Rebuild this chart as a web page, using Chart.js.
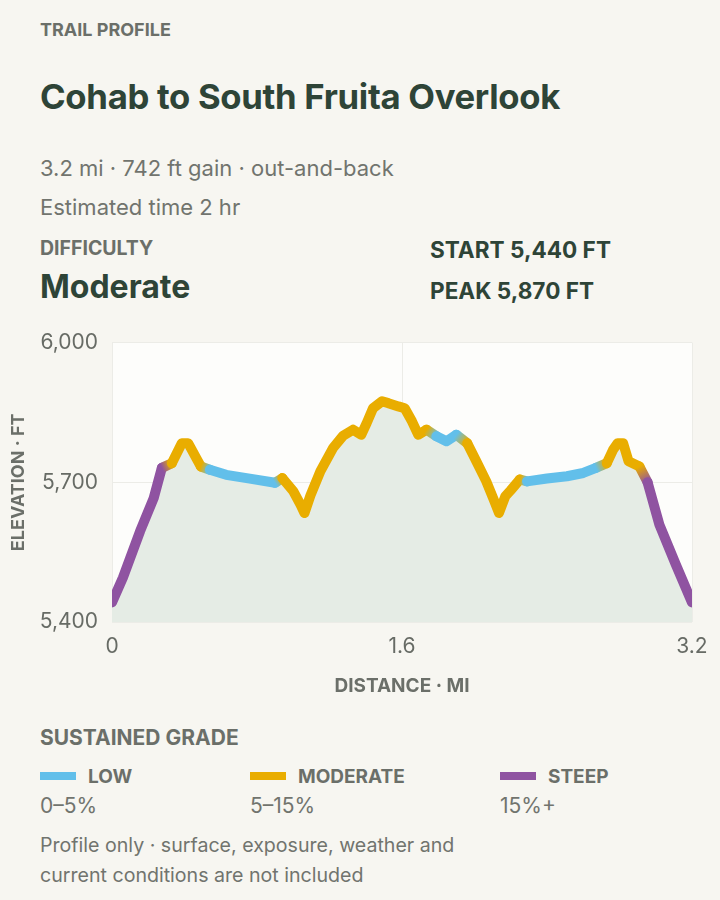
<!DOCTYPE html>
<html>
<head>
<meta charset="utf-8">
<script src="https://cdn.jsdelivr.net/npm/chart.js@4"></script>
<style>
  body { margin: 0; background: #f7f6f1; font-family: Inter, "Noto Sans", sans-serif; }
  .page { position: relative; width: 720px; height: 900px; overflow: hidden; }
  .t { position: absolute; left: 40px; white-space: nowrap; line-height: 1; }
  .cap { font-weight: 700; color: #6b6f69; }
  .dark { color: #2e4437; font-weight: 700; }
  .grey { color: #71746e; }
  .sw { position: absolute; width: 36px; height: 8px; }
  #wrap { position: absolute; left: 0; top: 316px; width: 720px; height: 382px; }
</style>
</head>
<body>
<div class="page">
  <div class="t cap" style="top:21px;font-size:18px;">TRAIL PROFILE</div>
  <div class="t dark" style="top:79px;font-size:34.7px;letter-spacing:-0.3px;">Cohab to South Fruita Overlook</div>
  <div class="t grey" style="top:157px;font-size:22px;">3.2 mi · 742 ft gain · out-and-back</div>
  <div class="t grey" style="top:196px;font-size:22px;">Estimated time 2 hr</div>
  <div class="t cap" style="top:239px;font-size:19.5px;">DIFFICULTY</div>
  <div class="t dark" style="top:271px;font-size:32px;">Moderate</div>
  <div class="t dark" style="left:430px;top:239px;font-size:22.6px;">START 5,440 FT</div>
  <div class="t dark" style="left:430px;top:280px;font-size:22.6px;">PEAK 5,870 FT</div>

  <div id="wrap"><canvas id="profile"></canvas></div>

  <div class="t cap" style="top:727px;font-size:21px;">SUSTAINED GRADE</div>
  <div id="legend"></div>
  <div class="t grey" style="top:830px;font-size:19.6px;line-height:30px;">Profile only · surface, exposure, weather and<br>current conditions are not included</div>
</div>

<script>
// distance along the trail (mi) and elevation (ft)
var distance = [0, 0.06, 0.155, 0.23, 0.275, 0.33, 0.385, 0.42, 0.465, 0.49,
  0.54, 0.63, 0.76, 0.9, 0.94, 1.0, 1.04, 1.062, 1.095, 1.15,
  1.22, 1.275, 1.33, 1.375, 1.405, 1.44, 1.49, 1.525, 1.58, 1.615,
  1.655, 1.69, 1.735, 1.79, 1.845, 1.9, 1.96, 2.01, 2.065, 2.11,
  2.135, 2.17, 2.2, 2.25, 2.29, 2.4, 2.51, 2.6, 2.67, 2.73,
  2.765, 2.79, 2.82, 2.85, 2.91, 2.955, 3.02, 3.11, 3.2];
var elevation = [5442, 5495, 5595, 5666, 5731, 5741, 5784, 5784, 5752, 5734,
  5727, 5716, 5708, 5699, 5709, 5681, 5652, 5634, 5672, 5724,
  5774, 5800, 5813, 5802, 5827, 5859, 5874, 5870, 5863, 5859,
  5831, 5802, 5813, 5799, 5788, 5802, 5784, 5745, 5702, 5659,
  5634, 5670, 5683, 5706, 5702, 5708, 5713, 5720, 5731, 5741,
  5770, 5784, 5784, 5745, 5734, 5700, 5609, 5524, 5442];
// sustained grade class at each point: L low, M moderate, S steep
var grade = ['S', 'S', 'S', 'S', 'S', 'M', 'M', 'M', 'M', 'M',
  'L', 'L', 'L', 'L', 'M', 'M', 'M', 'M', 'M', 'M',
  'M', 'M', 'M', 'M', 'M', 'M', 'M', 'M', 'M', 'M',
  'M', 'M', 'M', 'L', 'L', 'L', 'M', 'M', 'M', 'M',
  'M', 'M', 'M', 'M', 'L', 'L', 'L', 'L', 'L', 'M',
  'M', 'M', 'M', 'M', 'M', 'S', 'S', 'S', 'S'];

var gradeNames = ['LOW', 'MODERATE', 'STEEP'];
var gradeRanges = ['0–5%', '5–15%', '15%+'];
var gradeKeys = ['L', 'M', 'S'];
var gradeColors = { L: '#62bfea', M: '#e9ad00', S: '#8f53a1' };

var xTicks = [0, 1.6, 3.2];
var yTicks = [5400, 5700, 6000];

// legend
var legendHtml = '';
var legendX = [40, 250, 500];
for (var i = 0; i < gradeKeys.length; i++) {
  legendHtml += '<div class="sw" style="left:' + legendX[i] + 'px;top:772px;background:' + gradeColors[gradeKeys[i]] + '"></div>';
  legendHtml += '<div class="t cap" style="left:' + (legendX[i] + 48) + 'px;top:767px;font-size:19px;">' + gradeNames[i] + '</div>';
  legendHtml += '<div class="t grey" style="left:' + legendX[i] + 'px;top:795px;font-size:21px;">' + gradeRanges[i] + '</div>';
}
document.getElementById('legend').innerHTML = legendHtml;

var points = [];
for (var i = 0; i < distance.length; i++) {
  points.push({ x: distance[i], y: elevation[i] });
}

var plotBg = {
  id: 'plotBg',
  beforeDraw: function(chart) {
    var a = chart.chartArea, c = chart.ctx;
    c.save();
    c.fillStyle = '#fdfdfb';
    c.fillRect(a.left, a.top, a.right - a.left, a.bottom - a.top);
    c.restore();
  }
};

function segColor(ctx) {
  var a = grade[ctx.p0DataIndex], b = grade[ctx.p1DataIndex];
  if (a === b) return gradeColors[a];
  var g = ctx.chart.ctx.createLinearGradient(ctx.p0.x, ctx.p0.y, ctx.p1.x, ctx.p1.y);
  g.addColorStop(0, gradeColors[a]);
  g.addColorStop(1, gradeColors[b]);
  return g;
}

new Chart(document.getElementById('profile'), {
  type: 'line',
  data: {
    datasets: [{
      // graded profile line
      data: points,
      borderWidth: 10,
      borderCapStyle: 'round',
      borderJoinStyle: 'round',
      borderColor: gradeColors.M,
      segment: { borderColor: segColor },
      pointRadius: 0,
      tension: 0,
      fill: false,
      order: 0
    }, {
      // area under the profile
      data: points,
      borderWidth: 0,
      pointRadius: 0,
      tension: 0,
      fill: 'start',
      backgroundColor: '#e5ece5',
      order: 1
    }]
  },
  options: {
    responsive: true,
    maintainAspectRatio: false,
    animation: false,
    layout: { padding: { top: 0, right: 28, bottom: 0, left: 8 } },
    plugins: { legend: { display: false }, tooltip: { enabled: false } },
    scales: {
      x: {
        type: 'linear', min: 0, max: 3.2,
        afterBuildTicks: function(s) { s.ticks = xTicks.map(function(v) { return { value: v }; }); },
        ticks: { color: '#676b65', font: { family: 'Inter', size: 21 }, padding: 12,
          callback: function(v) { return String(v); } },
        grid: { color: '#ecece7', drawTicks: false },
        border: { display: false },
        title: { display: true, text: 'DISTANCE · MI', color: '#6b6f69',
          font: { family: 'Inter', size: 19, weight: '700' }, padding: { top: 4, bottom: 0 } }
      },
      y: {
        min: 5400, max: 6000,
        afterBuildTicks: function(s) { s.ticks = yTicks.map(function(v) { return { value: v }; }); },
        afterFit: function(s) { s.width = 104; },
        ticks: { color: '#676b65', font: { family: 'Inter', size: 21 }, padding: 14,
          callback: function(v) { return v.toLocaleString('en-US'); } },
        grid: { color: '#ecece7', drawTicks: false },
        border: { display: false },
        title: { display: true, text: 'ELEVATION · FT', color: '#6b6f69',
          font: { family: 'Inter', size: 18, weight: '700' }, padding: { top: 0, bottom: 0 } }
      }
    }
  },
  plugins: [plotBg]
});
</script>
</body>
</html>
